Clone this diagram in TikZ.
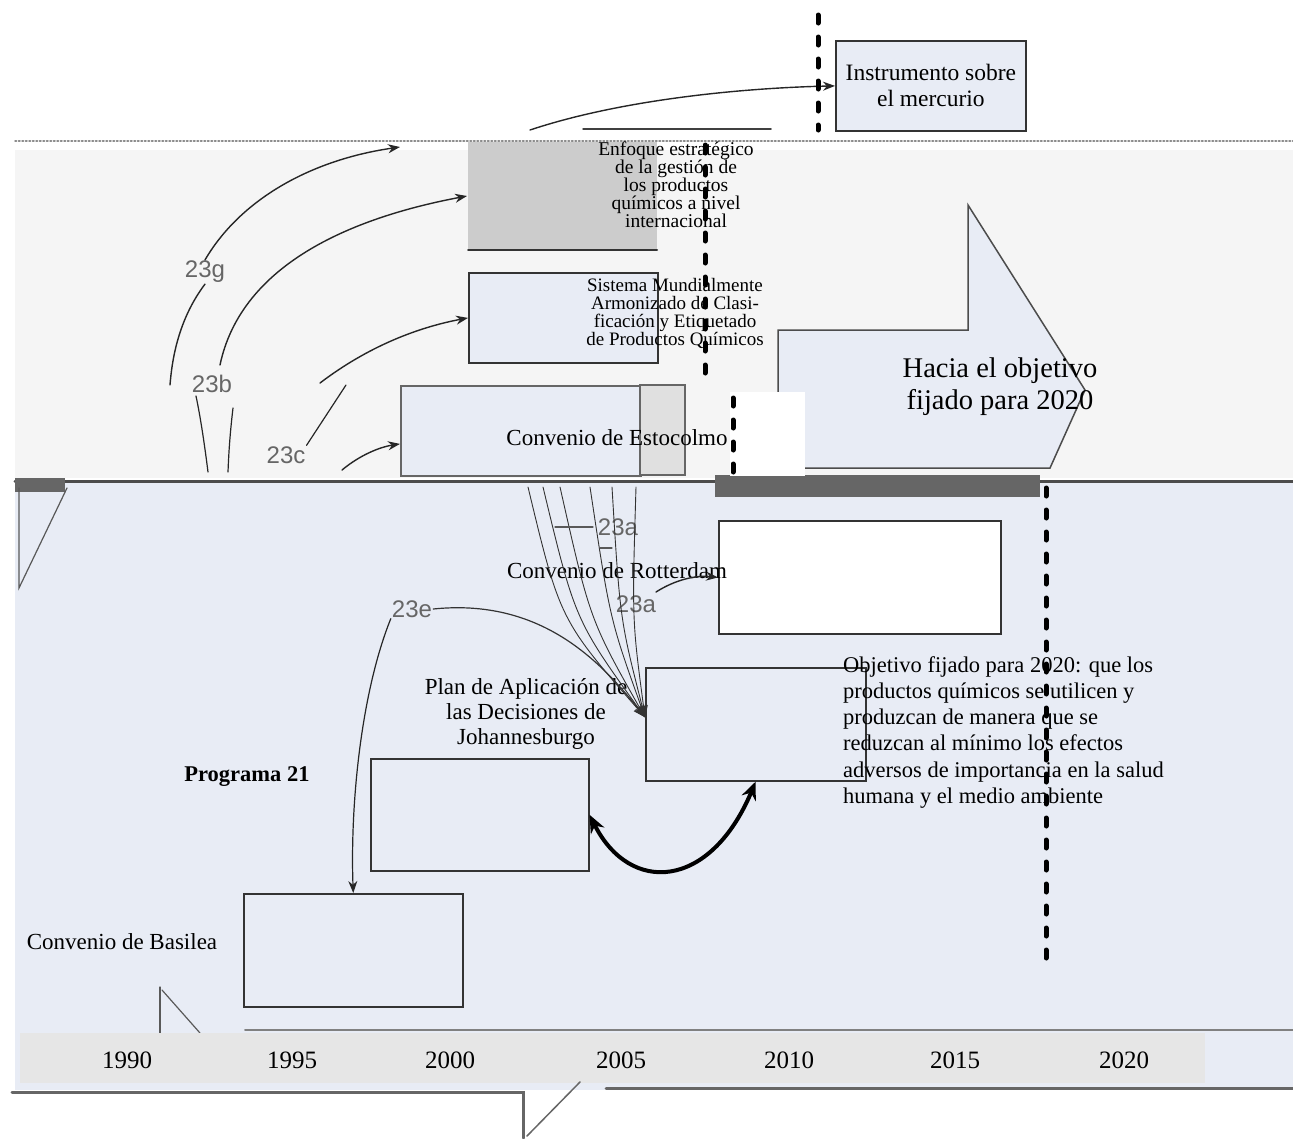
\documentclass[tikz,border=0pt]{standalone}
\usepackage{fontspec}
\setmainfont{Liberation Serif}
\newfontfamily\tagfont{Liberation Sans}
\usetikzlibrary{arrows.meta}

\definecolor{panel}{HTML}{E8ECF5}
\definecolor{boxgray}{HTML}{CCCCCC}
\definecolor{bar}{HTML}{666666}
\definecolor{yearbar}{HTML}{E6E6E6}

\begin{document}
\begin{tikzpicture}
		[x=1pt,y=-1pt,line cap=round,
		%Styles
		box/.style={draw=black!80,line width=1.8pt,fill=panel,anchor=north west,inner sep=0pt},
		big text/.style={font=\fontsize{23}{26}\selectfont,align=center},
		small text/.style={font=\fontsize{19.5}{18}\selectfont,align=center},
		tag/.style={font=\tagfont\fontsize{24}{24}\selectfont,text=black!60,inner sep=1pt},
		year/.style={font=\fontsize{25}{25}\selectfont},
		link/.style={->,line width=1.4pt,black!85},
		fan/.style={->,line width=0.9pt,black!80},
		frag/.style={black!65,line width=1.2pt},
		milestone/.style={line width=5pt,dash pattern=on 8pt off 14pt},
		>={Stealth[length=12pt,width=9pt]}
		]
		\useasboundingbox (0,0) rectangle (1293,1138);
		
		%Backgrounds
		\fill[black!4] (15,150) rectangle (1293,478);
		\fill[panel] (15,480) rectangle (1293,1090);
		\draw[black!45,line width=1.5pt,dotted] (15,141) -- (1293,141);
		\draw[black!75,line width=1.5pt] (583,129) -- (771,129);
		
		%Timeline
		\draw[black!70,line width=3pt] (15,481) -- (1293,481);
		\fill[bar] (715,475) rectangle (1040,497);
		\fill[bar] (15,478) rectangle (65,492);
		\draw[frag] (19,488) -- (19,588) -- (67,488);
		\draw[frag] (160,987) -- (160,1033);
		\draw[frag] (162,990) -- (200,1033);
		
		%Year bar
		\draw[black!50,line width=2pt] (245,1030) -- (1293,1030);
		\fill[yearbar] (20,1033) rectangle (1205,1083);
		\foreach \yr/\xp in {1990/127,1995/292,2000/450,2005/621,2010/789,2015/955,2020/1124}
			\node[year] (y\yr) at (\xp,1060) {\yr};
		\draw[black!60,line width=3pt] (12,1092) -- (523,1092) -- (523,1138);
		\draw[black!60,line width=1.5pt] (527,1136) -- (580,1082);
		\draw[black!60,line width=3pt] (606,1088) -- (1293,1088);
		
		%Big arrow
		\filldraw[fill=panel,draw=black!70,line width=1.5pt] (778,330) -- (968,330) -- (968,205) -- (1085,390) -- (1050,468) -- (778,468) -- cycle;
		\fill[white] (730,392) rectangle (805,476);
		\node[font=\fontsize{28.5}{32}\selectfont,align=center] (goal) at (1000,387) {Hacia el objetivo\\fijado para 2020};
		
		%Boxes
		\node[box,minimum width=190pt,minimum height=90pt,align=center,font=\fontsize{23.5}{26}\selectfont] (mercurio) at (835,40) {Instrumento sobre\\el mercurio};
		\fill[boxgray] (468,142) rectangle (657,250);
		\coordinate (enfoque) at (467,196);
		\draw[black!80,line width=2pt] (468,250) -- (657,250);
		\node[box,minimum width=189pt,minimum height=90pt] (ghs) at (468,272) {};
		\node[box,draw=black!60,minimum width=240pt,minimum height=90pt] (estocolmo) at (400,385) {};
		\filldraw[fill=black!12,draw=black!60,line width=1.5pt] (640,385) rectangle (685,475);
		\node[box,fill=white,minimum width=282pt,minimum height=113pt] (rotterdam) at (718,520) {};
		\node[box,line width=1.5pt,minimum width=220pt,minimum height=113pt] (jburg) at (645,667) {};
		\node[box,line width=1.5pt,minimum width=218pt,minimum height=112pt] (programa) at (370,758) {};
		\node[box,line width=1.5pt,minimum width=219pt,minimum height=113pt] (basilea) at (243,893) {};
		
		%Labels
		\node[small text] (enfoque text) at (676,185) {Enfoque estratégico\\de la gestión de\\los productos\\químicos a nivel\\internacional};
		\node[small text,font=\fontsize{19}{18}\selectfont] (ghs text) at (675,313) {Sistema Mundialmente\\Armonizado de Clasi-\\ficación y Etiquetado\\de Productos Químicos};
		\node[big text] (estocolmo text) at (617,438) {Convenio de Estocolmo};
		\node[big text] (rotterdam text) at (617,571) {Convenio de Rotterdam};
		\node[font=\fontsize{23}{25}\selectfont,align=center] (jburg text) at (526,714) {Plan de Aplicación de\\las Decisiones de\\Johannesburgo};
		\node[font=\bfseries\fontsize{22.5}{24}\selectfont] (programa text) at (247,777) {Programa 21};
		\node[font=\fontsize{23}{24}\selectfont] (basilea text) at (122,942) {Convenio de Basilea};
		\node[font=\fontsize{22.5}{26.3}\selectfont,align=left,anchor=north west,inner sep=0pt] (objetivo) at (843,656) {Objetivo fijado para 2020: que los\\productos químicos se utilicen y\\produzcan de manera que se\\reduzcan al mínimo los efectos\\adversos de importancia en la salud\\humana y el medio ambiente};
		
		%Tags
		\node[tag] (tag g) at (205,272) {23g};
		\node[tag] (tag b) at (212,384) {23b};
		\node[tag] (tag c) at (286,455) {23c};
		\node[tag] (tag a1) at (618,527) {23a};
		\node[tag] (tag a2) at (636,604) {23a};
		\node[tag] (tag e) at (412,609) {23e};
		
		%Connectors
		\coordinate (m-start) at (530,130);
		\draw[link] (m-start) .. controls (620,100) and (740,88) .. (mercurio.west);
		\draw[frag,black!85,line width=1.4pt] (tag g.south) .. controls (178,320) and (172,360) .. (170,385);
		\draw[link] (tag g.north) .. controls (240,200) and (310,160) .. (400,147);
		\draw[link] (220,365) .. controls (240,270) and (340,220) .. (enfoque);
		\draw[link] (320,383) .. controls (370,345) and (420,327) .. (ghs.west);
		\draw[link] (342,470) .. controls (360,455) and (380,447) .. ([yshift=-13pt]estocolmo.west);
		\draw[frag,black!85] (tag c.north east) -- (346,385);
		\draw[frag,black!85] (208,472) .. controls (204,440) and (200,415) .. (196,396);
		\draw[frag,black!85] (228,472) .. controls (229,445) and (231,425) .. (233,408);
		
		\coordinate (fan end) at ([yshift=7pt]jburg.west);
		\foreach \xs/\bend in {528/560,543/575,560/590,590/610,612/620,636/632}
			\draw[fan] (\xs,487) .. controls (\bend,620) .. (fan end);
		\draw[frag] (555,527) -- (593,527);
		\draw[frag] (600,548) -- (612,548);
		\draw[link] (656,592) .. controls (675,580) and (695,575) .. (rotterdam.west);
		\draw[fan,line width=1.2pt] (tag e.east) .. controls (540,598) and (600,660) .. (fan end);
		\draw[link,line width=1.2pt] (tag e.south west) .. controls (362,690) and (350,800) .. (basilea.north);
		\draw[<->,line width=4pt,>={Stealth[length=18pt,width=15pt]}] (programa.east) .. controls (630,895) and (710,890) .. (jburg.south);
		
		%Deadlines
		\draw[milestone] (818,15) -- (818,130);
		\draw[milestone] (705,145) -- (705,385);
		\draw[milestone] (733,398) -- (733,472);
		\draw[milestone] (1046,488) -- (1046,965);
	\end{tikzpicture}
\end{document}
